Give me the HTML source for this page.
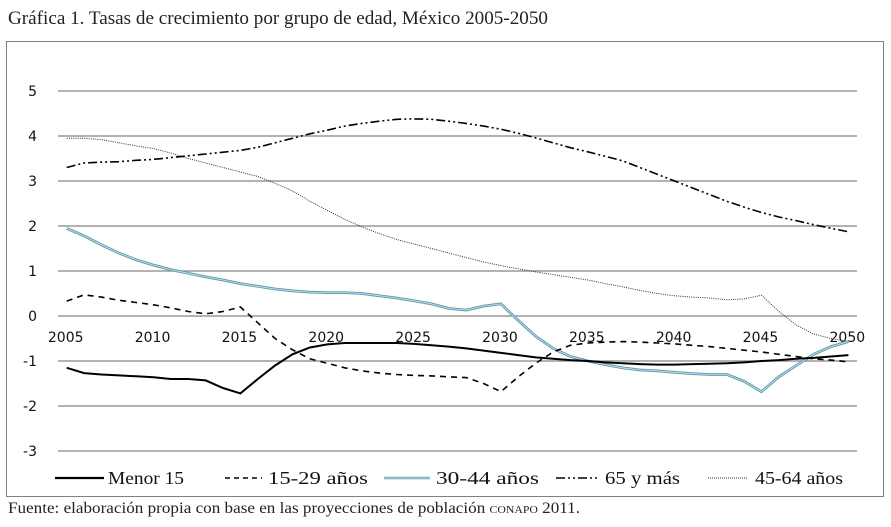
<!DOCTYPE html>
<html><head><meta charset="utf-8"><style>
html,body{margin:0;padding:0;background:#fff;}
body{width:891px;height:527px;overflow:hidden;position:relative;}
</style></head><body>
<svg id="s" width="891" height="527" xmlns="http://www.w3.org/2000/svg" style="position:absolute;left:0;top:0">
<text x="8" y="24" font-family="Liberation Serif, serif" font-size="19" fill="#222" textLength="540" lengthAdjust="spacingAndGlyphs">Gráfica 1. Tasas de crecimiento por grupo de edad, México 2005-2050</text>
<rect x="6.5" y="41.5" width="877" height="455" fill="none" stroke="#808080" stroke-width="1"/>
<g id="grid" stroke="#999" stroke-width="1.5"></g>
<g id="ylab" font-family="DejaVu Sans, sans-serif" font-size="14" fill="#111" text-anchor="end"></g>
<g id="xlab" font-family="DejaVu Sans, sans-serif" font-size="14" fill="#111" text-anchor="middle"></g>
<g id="series" fill="none"></g>
<g font-family="Liberation Serif, serif" font-size="18" fill="#111">
<line x1="55" y1="478" x2="104" y2="478" stroke="#000" stroke-width="2.2"/>
<text x="108" y="484" textLength="76" lengthAdjust="spacingAndGlyphs">Menor 15</text>
<line x1="225" y1="478" x2="262" y2="478" stroke="#000" stroke-width="1.6" stroke-dasharray="5,4"/>
<text x="268" y="484" textLength="100" lengthAdjust="spacingAndGlyphs">15-29 años</text>
<line x1="384" y1="478" x2="430" y2="478" stroke="#5f9db0" stroke-width="2.6"/>
<line x1="384" y1="478" x2="430" y2="478" stroke="#cfe6ee" stroke-width="0.8"/>
<text x="436" y="484" textLength="103" lengthAdjust="spacingAndGlyphs">30-44 años</text>
<line x1="556" y1="478" x2="600" y2="478" stroke="#000" stroke-width="1.6" stroke-dasharray="9,3,2,3,2,3"/>
<text x="605" y="484" textLength="75" lengthAdjust="spacingAndGlyphs">65 y más</text>
<line x1="708" y1="478" x2="748" y2="478" stroke="#333" stroke-width="1" stroke-dasharray="1,1"/>
<text x="755" y="484" textLength="88" lengthAdjust="spacingAndGlyphs">45-64 años</text>
</g>
<text x="8" y="513" font-family="Liberation Serif, serif" font-size="16" fill="#222" textLength="572" lengthAdjust="spacingAndGlyphs">Fuente: elaboración propia con base en las proyecciones de población <tspan font-size="11">CONAPO</tspan> 2011.</text>
</svg>
<script>
var NS="http://www.w3.org/2000/svg";
function X(i){return 66.7+i*17.37;}
function Y(v){return 316-45*v;}
function el(p,t,a,txt){var e=document.createElementNS(NS,t);for(var k in a)e.setAttribute(k,a[k]);if(txt!==undefined)e.textContent=txt;document.getElementById(p).appendChild(e);}
for(var v=5;v>=-3;v--){ el("grid","line",{x1:58,x2:857,y1:Y(v),y2:Y(v)}); el("ylab","text",{x:37,y:Y(v)+5},String(v));}
for(var yr=2005;yr<=2050;yr+=5){el("xlab","text",{x:X(yr-2005)-1,y:342},String(yr));}
var m15=[-1.15,-1.27,-1.3,-1.32,-1.34,-1.36,-1.4,-1.4,-1.43,-1.6,-1.72,-1.4,-1.1,-0.85,-0.7,-0.63,-0.6,-0.6,-0.6,-0.6,-0.62,-0.65,-0.68,-0.72,-0.77,-0.82,-0.87,-0.92,-0.95,-0.98,-1.0,-1.03,-1.05,-1.07,-1.08,-1.08,-1.07,-1.06,-1.05,-1.03,-1.0,-0.98,-0.95,-0.93,-0.9,-0.87];
var a15=[0.33,0.47,0.42,0.35,0.3,0.25,0.18,0.1,0.05,0.1,0.2,-0.15,-0.5,-0.75,-0.95,-1.05,-1.15,-1.22,-1.27,-1.3,-1.32,-1.33,-1.35,-1.37,-1.5,-1.68,-1.35,-1.05,-0.8,-0.65,-0.6,-0.58,-0.57,-0.58,-0.6,-0.62,-0.65,-0.68,-0.72,-0.76,-0.8,-0.85,-0.9,-0.95,-0.98,-1.02];
var a30=[1.95,1.78,1.58,1.4,1.25,1.13,1.03,0.95,0.87,0.8,0.72,0.66,0.6,0.56,0.53,0.52,0.52,0.5,0.45,0.4,0.34,0.27,0.17,0.13,0.22,0.27,-0.1,-0.45,-0.72,-0.9,-1.0,-1.08,-1.15,-1.2,-1.22,-1.25,-1.28,-1.3,-1.3,-1.45,-1.68,-1.35,-1.1,-0.85,-0.68,-0.57];
var a65=[3.3,3.4,3.42,3.43,3.46,3.48,3.52,3.56,3.6,3.64,3.68,3.75,3.85,3.95,4.05,4.13,4.22,4.28,4.33,4.37,4.38,4.37,4.33,4.28,4.22,4.15,4.06,3.96,3.85,3.74,3.65,3.55,3.45,3.3,3.15,3.0,2.85,2.7,2.55,2.42,2.3,2.2,2.12,2.03,1.95,1.87];
var a45=[3.95,3.95,3.92,3.85,3.78,3.72,3.62,3.5,3.4,3.3,3.2,3.1,2.95,2.78,2.55,2.35,2.15,1.98,1.83,1.7,1.6,1.5,1.4,1.3,1.2,1.12,1.05,0.98,0.92,0.86,0.8,0.72,0.65,0.57,0.5,0.45,0.42,0.4,0.36,0.38,0.46,0.1,-0.2,-0.4,-0.5,-0.57];
function pts(a){return a.map(function(v,i){return X(i).toFixed(1)+","+Y(v).toFixed(1);}).join(" ");}
el("series","polyline",{points:pts(a45),stroke:"#333","stroke-width":1,"stroke-dasharray":"1,1.2"});
el("series","polyline",{points:pts(a65),stroke:"#000","stroke-width":1.6,"stroke-dasharray":"9,3,2,3,2,3"});
el("series","polyline",{points:pts(a30),stroke:"#5f9db0","stroke-width":2.8});
el("series","polyline",{points:pts(a30),stroke:"#cfe6ee","stroke-width":0.8});
el("series","polyline",{points:pts(a15),stroke:"#000","stroke-width":1.6,"stroke-dasharray":"6,5"});
el("series","polyline",{points:pts(m15),stroke:"#000","stroke-width":2});
</script>
</body></html>
